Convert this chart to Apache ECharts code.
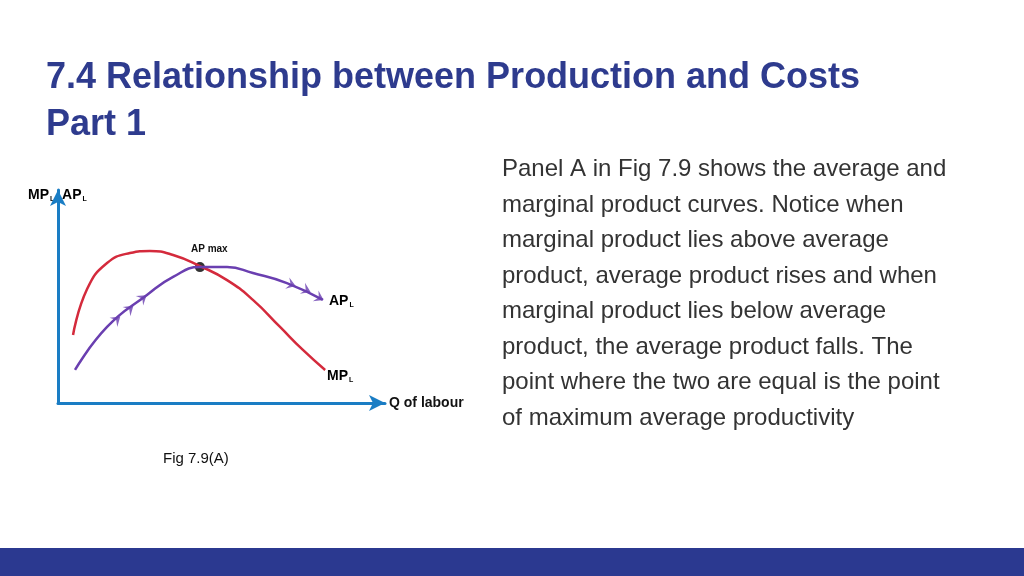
<!DOCTYPE html><html><head><meta charset="utf-8"><script src="https://cdn.jsdelivr.net/npm/echarts@6/dist/echarts.min.js"></script>
<style>body{margin:0}#c{width:1024px;height:576px}</style></head><body><div id="c"></div><script>
const mpData=[[4.6,31.9],[8.9,53.5],[15,65.7],[22,70.4],[28.1,71.4],[35.2,69.5],[43.4,64.3],[51.7,57.7],[59.6,48.4],[67.9,35.7],[74.9,24.9],[81.7,15.5]];
const apData=[[5.2,15.5],[15,35.7],[27.2,50.7],[35.2,59.2],[43.4,63.8],[51.7,63.8],[59.6,61],[70,56.3],[81,48.4]];
const arrowPts=[[18,39.2,40],[22,44.3,40],[26,49.3,38],[71.4,55.6,-20],[76,53,-25],[80,49.3,-28]];
const apMax=[[43.4,63.8]];
const para=["Panel A in Fig 7.9 shows the average and","marginal product curves. Notice when","marginal product lies above average","product, average product rises and when","marginal product lies below average","product, the average product falls. The","point where the two are equal is the point","of maximum average productivity"];
const ch=echarts.init(document.getElementById('c'));
const F='"Liberation Sans", Arial, sans-serif';
const sub={b:{fontFamily:'Liberation Sans',fontWeight:'bold',fontSize:14,color:'#111'},s:{fontFamily:'Liberation Sans',fontWeight:'bold',fontSize:7,color:'#111',padding:[9,0,0,1]}};
const g=[
 {type:'text',left:46,top:60,style:{text:'7.4 Relationship between Production and Costs',fontFamily:'Liberation Sans',fontWeight:'bold',fontSize:36,fill:'#2e3b8e'}},
 {type:'text',left:46,top:107,style:{text:'Part 1',fontFamily:'Liberation Sans',fontWeight:'bold',fontSize:36,fill:'#2e3b8e'}},
 {type:'text',left:502,top:152,style:{text:para.join('\n'),fontFamily:'Liberation Sans',fontSize:24,lineHeight:35.5,fill:'#333'}},
 {type:'text',left:163,top:451,style:{text:'Fig 7.9(A)',fontFamily:'Liberation Sans',fontSize:15,fill:'#111'}},
 {type:'rect',shape:{x:0,y:548,width:1024,height:28},style:{fill:'#2b3990'}},
 {type:'text',left:28,top:188,style:{text:'{b|MP}{s|L}{b|, AP}{s|L}',rich:sub}},
 {type:'text',left:329,top:294,style:{text:'{b|AP}{s|L}',rich:sub}},
 {type:'text',left:327,top:369,style:{text:'{b|MP}{s|L}',rich:sub}},
 {type:'text',left:389,top:396,style:{text:'Q of labour',fontFamily:'Liberation Sans',fontWeight:'bold',fontSize:14,fill:'#111'}},
 {type:'text',left:191,top:244,style:{text:'AP max',fontFamily:'Liberation Sans',fontWeight:'bold',fontSize:10,fill:'#111'}}
];
ch.setOption({animation:false,backgroundColor:'#fff',graphic:g,
 grid:{left:58,top:190,width:327,height:213},
 xAxis:{type:'value',min:0,max:100,axisLine:{lineStyle:{color:'#1a7dc4',width:3},symbol:['none','arrow'],symbolSize:[12,16]},axisTick:{show:false},axisLabel:{show:false},splitLine:{show:false}},
 yAxis:{type:'value',min:0,max:100,axisLine:{show:true,lineStyle:{color:'#1a7dc4',width:3},symbol:['none','arrow'],symbolSize:[12,16]},axisTick:{show:false},axisLabel:{show:false},splitLine:{show:false}},
 series:[
  {type:'line',data:mpData,smooth:true,showSymbol:false,lineStyle:{color:'#d42a3c',width:2.5}},
  {type:'line',data:apData,smooth:true,showSymbol:false,lineStyle:{color:'#6a3fb0',width:2.5}},
  {type:'scatter',data:arrowPts.map(p=>({value:[p[0],p[1]],symbolRotate:p[2]-90})),symbol:'path://M0,10 L5,0 L10,10 L5,6 Z',symbolSize:[12,9],itemStyle:{color:'#6a3fb0'}},
  {type:'scatter',data:apMax,symbolSize:10,itemStyle:{color:'#000'}}
 ]});
</script></body></html>
